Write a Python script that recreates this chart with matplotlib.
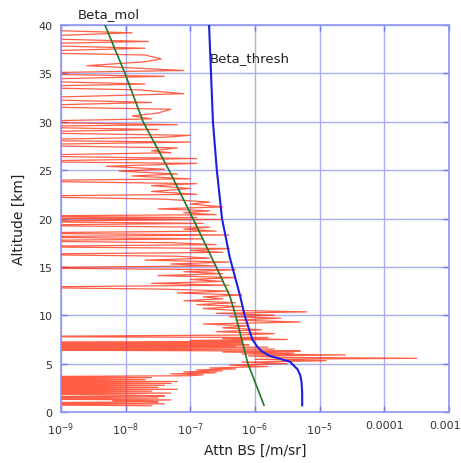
import numpy as np
import matplotlib.pyplot as plt
import matplotlib.transforms as mtransforms
from matplotlib.ticker import FixedLocator, FixedFormatter, NullLocator

# Molecular backscatter (log10 of /m/sr) against altitude [km]
mol_alt = [0.7, 5, 10, 12, 15, 20, 25, 30, 35, 40]
mol_log = [-5.86, -6.11, -6.30, -6.39, -6.60, -6.96, -7.33, -7.73, -8.01, -8.32]

# Threshold profile
thr_alt = [0.7, 2.0, 3.1, 3.8, 4.4, 4.8, 5.2, 5.8, 6.3, 6.8, 7.5, 8.3, 10, 12, 16, 20, 25, 30, 35, 40]
thr_log = [-5.27, -5.27, -5.28, -5.30, -5.34, -5.40, -5.46, -5.77, -5.90, -5.97, -6.04, -6.08,
           -6.16, -6.23, -6.39, -6.51, -6.59, -6.65, -6.68, -6.71]

# Measured attenuated backscatter, log10 value (-10 = below axis, i.e. noise <= 0)
red_alt = [0.65, 0.75, 0.85, 0.95, 1.05, 1.15, 1.25, 1.35, 1.45, 1.55, 1.65, 1.75, 1.85, 1.95,
           2.05, 2.15, 2.25, 2.35, 2.45, 2.55, 2.65, 2.75, 2.85, 2.95, 3.05, 3.15, 3.25, 3.35,
           3.45, 3.55, 3.65, 3.75, 3.85, 3.95, 4.05, 4.15, 4.25, 4.35, 4.45, 4.55, 4.7, 4.85,
           5.0, 5.15, 5.3, 5.45, 5.55, 5.65, 5.8, 5.9, 6.0, 6.1, 6.2, 6.3, 6.4, 6.5, 6.6, 6.7,
           6.8, 6.85, 6.9, 6.95, 7.0, 7.05, 7.1, 7.15, 7.2, 7.3, 7.4, 7.5, 7.6, 7.7, 7.8, 7.95,
           8.1, 8.3, 8.5, 8.7, 8.9, 9.1, 9.3, 9.5, 9.7, 9.85, 10.0, 10.2, 10.35, 10.5, 10.7,
           10.9, 11.1, 11.3, 11.5, 11.7, 11.9, 12.1, 12.3, 12.5, 12.7, 12.9, 13.1, 13.3, 13.5,
           13.7, 13.9, 14.1, 14.3, 14.5, 14.7, 14.9, 15.1, 15.3, 15.5, 15.7, 15.9, 16.1, 16.3,
           16.5, 16.7, 16.9, 17.1, 17.3, 17.5, 17.7, 17.9, 18.1, 18.3, 18.5, 18.7, 18.9, 19.1,
           19.3, 19.5, 19.7, 19.9, 20.0, 20.1, 20.25, 20.4, 20.6, 20.8, 21.0, 21.2, 21.5, 21.7,
           22.0, 22.3, 22.5, 22.8, 23.1, 23.4, 23.6, 23.9, 24.1, 24.4, 24.6, 24.9, 25.1, 25.4,
           25.7, 25.9, 26.2, 26.5, 26.8, 27.0, 27.3, 27.6, 27.9, 28.1, 28.4, 28.6, 28.9, 29.2,
           29.5, 29.7, 30.0, 30.3, 30.6, 30.9, 31.3, 31.6, 32.0, 32.4, 32.9, 33.3, 33.6, 33.9,
           34.3, 34.7, 35.0, 35.3, 35.8, 36.2, 36.5, 36.9, 37.2, 37.6, 38.0, 38.3, 38.7, 39.2,
           39.6]
red_log = [-7.6, -10, -7.4, -10, -7.5, -8.2, -7.3, -10, -7.5, -10, -7.4, -7.9, -10, -7.3,
           -10, -7.6, -10, -7.2, -10, -7.5, -10, -7.4, -10, -7.3, -10, -7.2, -10, -7.7,
           -10, -7.6, -10, -7.0, -6.8, -7.3, -6.6, -7.1, -6.5, -6.9, -6.3, -6.7, -5.8, -6.4,
           -5.5, -6.2, -4.9, -6.0, -3.5, -5.6, -6.1, -4.6, -6.2, -5.4, -6.5, -5.3, -10, -5.7, -10, -5.8,
           -10, -6.3, -10, -6.1, -10, -6.4, -10, -6.2, -10, -6.2, -7.0, -5.5, -6.5, -5.8, -10, -6.3,
           -5.7, -6.6, -5.9, -6.5, -6.1, -6.8, -5.3, -6.3, -5.6, -6.4, -5.7, -6.6, -5.2, -6.3, -6.8,
           -6.2, -6.9, -6.3, -7.1, -6.5, -6.8, -6.2, -7.2, -6.4, -7.4, -10, -6.4, -7.6, -6.5,
           -7.0, -6.3, -7.5, -6.5, -7.1, -6.3, -10, -6.6, -7.3, -6.4, -7.7, -6.7, -7.2, -10,
           -6.5, -7.0, -6.4, -10, -6.6, -7.3, -10, -6.8, -10, -6.4, -10, -6.6, -7.1, -6.7,
           -10, -6.8, -10, -6.5, -10, -6.9, -10, -6.6, -7.1, -6.7, -7.5, -6.5, -7.0, -6.7,
           -7.4, -10, -6.9, -7.6, -7.0, -7.6, -6.9, -10, -7.0, -7.9, -7.2, -8.1, -7.4, -8.3,
           -6.9, -10, -6.9, -10, -7.3, -7.6, -7.2, -10, -7.0, -10, -7.4, -7.0, -10, -7.5,
           -10, -7.2, -10, -7.6, -7.9, -7.5, -7.3, -10, -7.6, -10, -7.1, -7.8, -10, -7.7,
           -10, -7.4, -10, -7.1, -8.6, -7.7, -7.45, -7.7, -10, -7.7, -10, -7.65, -10, -7.9,
           -10]

grid_col = '#aab0f4'

fig = plt.figure(figsize=(4.61, 4.64), dpi=100)
ax = fig.add_axes([0.1323, 0.1099, 0.8416, 0.834])

ax.plot(10.0 ** np.array(red_log), red_alt, color='#ff2200', lw=0.9, alpha=0.72, zorder=2)
ax.plot(10.0 ** np.array(mol_log), mol_alt, color='#1c7a2c', lw=1.2, zorder=3)
ax.plot(10.0 ** np.array(thr_log), thr_alt, color='#1c1ee0', lw=1.5, zorder=4)

ax.set_xscale('log', nonpositive='clip')
ax.set_xlim(1e-9, 1e-3)
ax.set_ylim(0, 40)

xt = [1e-9, 1e-8, 1e-7, 1e-6, 1e-5, 1e-4, 1e-3]
xt_labels = ['$10^{-9}$', '$10^{-8}$', '$10^{-7}$', '$10^{-6}$', '$10^{-5}$', '0.0001', '0.001']
ax.xaxis.set_major_locator(FixedLocator(xt))
ax.xaxis.set_major_formatter(FixedFormatter(xt_labels))
ax.xaxis.set_minor_locator(NullLocator())
ax.set_yticks([0, 5, 10, 15, 20, 25, 30, 35, 40])

ax.grid(True, color=grid_col, lw=1.0)
ax.set_axisbelow(True)
for s in ax.spines.values():
    s.set_color('#8f96f0')
    s.set_linewidth(1.2)
ax.tick_params(direction='in', length=4, width=1, color='#6f76e8', top=True, right=True,
               labelsize=8, labelcolor='#333333', pad=6)

# last tick label sits close to the edge, nudge it left a little
shift = mtransforms.ScaledTranslation(-4 / 100, 0, fig.dpi_scale_trans)
last = ax.xaxis.get_major_ticks()[-1].label1
last.set_transform(last.get_transform() + shift)

ax.set_xlabel('Attn BS [/m/sr]', fontsize=10, color='#222222', labelpad=4)
ax.set_ylabel('Altitude [km]', fontsize=10, color='#222222', labelpad=9)

ax.text(10 ** -8.74, 41.2, 'Beta_mol', fontsize=9.5, color='#222222', va='center', clip_on=False)
ax.text(10 ** -6.70, 36.6, 'Beta_thresh', fontsize=9.5, color='#222222', va='center')

fig.savefig('out.png', dpi=100)
